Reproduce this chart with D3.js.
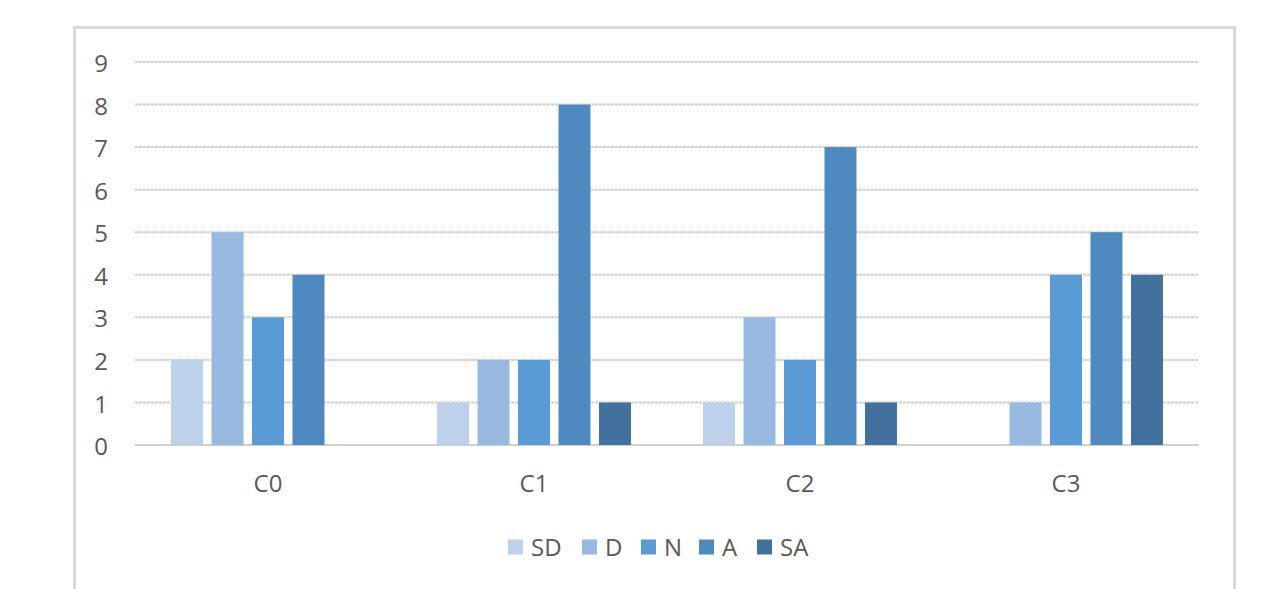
<!DOCTYPE html>
<html>
<head>
<meta charset="utf-8">
<script src="https://cdn.jsdelivr.net/npm/d3@7"></script>
<style>
  html, body { margin: 0; padding: 0; background: #fff; }
  svg { display: block; }
  svg text { font-family: "Open Sans", "Noto Sans", sans-serif; }
</style>
</head>
<body>
<svg id="chart" width="1270" height="589"></svg>
<script>
// Response counts per category
const categories = ["C0", "C1", "C2", "C3"];
const seriesNames = ["SD", "D", "N", "A", "SA"];
const SD = [2, 1, 1, 0];
const D  = [5, 2, 3, 1];
const N  = [3, 2, 2, 4];
const A  = [4, 8, 7, 5];
const SA = [0, 1, 1, 4];
const yTicks = [0, 1, 2, 3, 4, 5, 6, 7, 8, 9];

const seriesValues = { SD, D, N, A, SA };
const colors = {
  SD: "#bdd1ea",
  D:  "#98b9e0",
  N:  "#5b9bd5",
  A:  "#4e89bf",
  SA: "#42719d"
};

const FONT = "'Open Sans', 'Noto Sans', sans-serif";
const FONT_SIZE = 24;
const TEXT_COLOR = "#595959";

const svg = d3.select("#chart");

// Outer chart frame
svg.append("rect")
  .attr("x", 74.5).attr("y", 27.5)
  .attr("width", 1160).attr("height", 600)
  .attr("fill", "#fff")
  .attr("stroke", "#d9d9d9")
  .attr("stroke-width", 3);

const plot = { left: 135, right: 1199, top: 62, bottom: 445 };

const y = d3.scaleLinear().domain([0, 9]).range([plot.bottom, plot.top]);

const x0 = d3.scaleBand()
  .domain(categories)
  .range([plot.left, plot.right])
  .paddingInner(0.239)
  .paddingOuter(0.1195);

const x1 = d3.scaleBand()
  .domain(seriesNames)
  .range([0, x0.bandwidth()])
  .paddingInner(0.21)
  .paddingOuter(0.105);

// Horizontal gridlines
svg.append("g")
  .selectAll("line")
  .data(yTicks)
  .join("line")
  .attr("x1", plot.left).attr("x2", plot.right)
  .attr("y1", d => y(d)).attr("y2", d => y(d))
  .attr("stroke", "#d0d0d0")
  .attr("stroke-width", 2)
  .attr("stroke-dasharray", d => d === 0 ? null : "3,1");

// Y axis labels
const yAxis = d3.axisLeft(y).tickValues(yTicks).tickSize(0).tickPadding(0);
const gy = svg.append("g")
  .attr("transform", `translate(108,1)`)
  .call(yAxis)
  .attr("font-family", FONT)
  .attr("font-size", FONT_SIZE);
gy.select(".domain").remove();
gy.selectAll("text")
  .attr("fill", TEXT_COLOR)
  .attr("dy", "0.36em");

// Bars
const groups = svg.append("g")
  .selectAll("g")
  .data(categories)
  .join("g")
  .attr("transform", d => `translate(${x0(d)},0)`);

groups.selectAll("rect")
  .data((c, i) => seriesNames.map(s => ({ s, v: seriesValues[s][i] })))
  .join("rect")
  .attr("x", d => x1(d.s))
  .attr("width", x1.bandwidth())
  .attr("y", d => y(d.v))
  .attr("height", d => y(0) - y(d.v))
  .attr("fill", d => colors[d.s]);

// Category axis
const xAxis = d3.axisBottom(x0).tickSize(0).tickPadding(0);
const gx = svg.append("g")
  .attr("transform", `translate(0,${plot.bottom + 38})`)
  .call(xAxis)
  .attr("font-family", FONT)
  .attr("font-size", FONT_SIZE);
gx.select(".domain").remove();
gx.selectAll("text")
  .attr("fill", TEXT_COLOR)
  .attr("dy", "0.36em");

// Legend
const legendX = [508, 582, 641, 699, 757];
const legend = svg.append("g")
  .selectAll("g")
  .data(seriesNames)
  .join("g")
  .attr("transform", (d, i) => `translate(${legendX[i]},547)`);
legend.append("rect")
  .attr("x", 0).attr("y", -7.5)
  .attr("width", 15).attr("height", 15)
  .attr("fill", d => colors[d]);
legend.append("text")
  .attr("x", 23).attr("y", 0)
  .attr("dy", "0.36em")
  .attr("fill", TEXT_COLOR)
  .attr("font-family", FONT)
  .attr("font-size", FONT_SIZE)
  .text(d => d);
</script>
</body>
</html>
